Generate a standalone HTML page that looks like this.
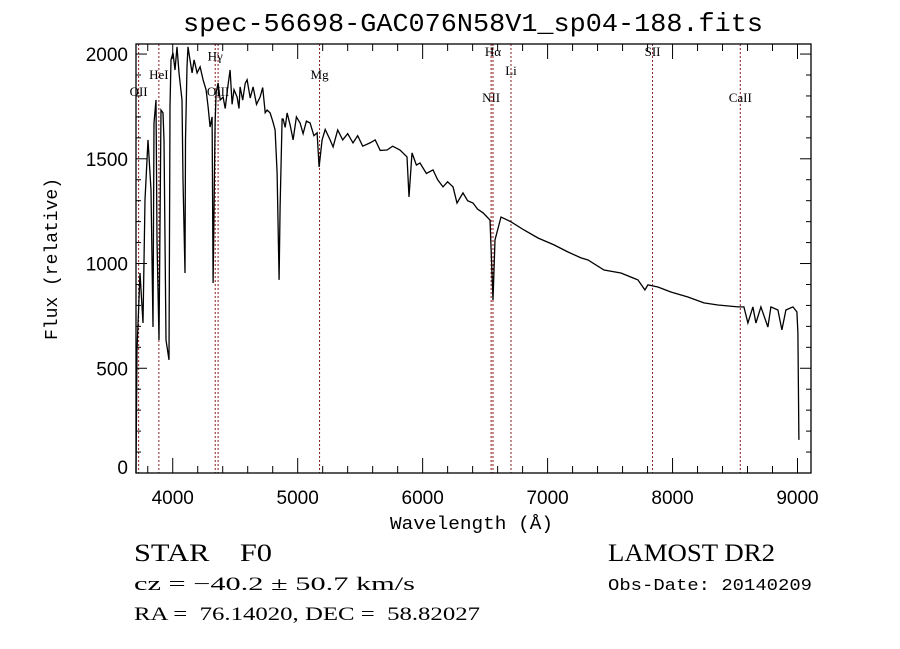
<!DOCTYPE html>
<html><head><meta charset="utf-8"><style>
html,body{margin:0;padding:0;background:#fff;width:900px;height:649px;overflow:hidden}
svg{display:block}
</style></head><body>
<svg id="chart" width="900" height="649" viewBox="0 0 900 649" xmlns="http://www.w3.org/2000/svg">
<rect width="900" height="649" fill="#fff"/>
<text x="473" y="31" text-anchor="middle" font-family="Liberation Mono, monospace" font-size="26" textLength="580" lengthAdjust="spacingAndGlyphs" fill="#000">spec-56698-GAC076N58V1_sp04-188.fits</text>
<g id="lines"></g>
<g id="spec"></g>
<g id="axes"></g>
<text x="390" y="529" font-family="Liberation Mono, monospace" font-size="18" textLength="163" lengthAdjust="spacingAndGlyphs" fill="#000">Wavelength (Å)</text>
<text transform="translate(57,259) rotate(-90)" text-anchor="middle" font-family="Liberation Mono, monospace" font-size="18" fill="#000">Flux (relative)</text>
<text x="134" y="561" font-family="Liberation Serif, serif" font-size="25" textLength="138" lengthAdjust="spacingAndGlyphs" fill="#000" xml:space="preserve">STAR    F0</text>
<text x="134" y="590" font-family="Liberation Serif, serif" font-size="19" textLength="281" lengthAdjust="spacingAndGlyphs" fill="#000">cz = −40.2 ± 50.7 km/s</text>
<text x="134" y="620" font-family="Liberation Serif, serif" font-size="19" textLength="346" lengthAdjust="spacingAndGlyphs" fill="#000" xml:space="preserve">RA =  76.14020, DEC =  58.82027</text>
<text x="608" y="561" font-family="Liberation Serif, serif" font-size="25" textLength="167" lengthAdjust="spacingAndGlyphs" fill="#000">LAMOST DR2</text>
<text x="608" y="590" font-family="Liberation Mono, monospace" font-size="17" textLength="204" lengthAdjust="spacingAndGlyphs" fill="#000">Obs-Date: 20140209</text>
</svg>
<script>
const wavelengths=[3706,3710,3714,3738,3762,3778,3802,3826,3842,3850,3866,3874,3890,3906,3922,3930,3946,3970,3978,3986,4002,4018,4034,4050,4074,4082,4098,4102,4114,4122,4138,4155,4171,4195,4219,4243,4267,4283,4299,4315,4323,4339,4347,4363,4380,4403,4420,4440,4459,4475,4490,4515,4530,4539,4560,4580,4595,4620,4643,4670,4699,4720,4740,4755,4779,4800,4819,4835,4851,4859,4875,4883,4900,4915,4940,4963,4990,5019,5043,5070,5099,5130,5155,5171,5195,5220,5259,5283,5320,5360,5400,5443,5480,5520,5579,5620,5660,5715,5760,5819,5875,5891,5915,5950,5979,6030,6083,6120,6163,6200,6243,6275,6323,6360,6403,6440,6483,6539,6563,6579,6627,6707,6811,6923,7051,7163,7267,7323,7451,7587,7723,7779,7803,7883,7987,8123,8251,8363,8523,8571,8603,8643,8667,8707,8763,8787,8843,8875,8907,8963,8995,9003,9011];
const fluxes=[0,300,587,955,716,1304,1590,1351,697,1671,1781,1113,635,1733,1719,1590,635,540,1748,1972,2006,1924,2034,1910,1781,1399,955,1590,1939,2034,1972,1910,1972,1910,1939,1877,1829,1748,1652,1700,907,1671,1815,1862,1780,1795,1740,1840,1924,1760,1830,1795,1740,1843,1780,1860,1877,1790,1843,1760,1795,1840,1720,1733,1719,1680,1638,1433,922,1270,1690,1690,1650,1719,1660,1590,1700,1671,1620,1680,1671,1610,1624,1461,1590,1640,1590,1557,1638,1590,1620,1576,1610,1560,1576,1590,1540,1542,1560,1542,1509,1318,1528,1470,1480,1430,1447,1400,1366,1390,1366,1289,1337,1300,1289,1260,1242,1208,826,1113,1222,1199,1160,1122,1089,1055,1027,1017,969,955,922,874,898,888,864,840,812,802,793,793,716,793,716,793,697,793,778,683,778,793,769,669,158];
const lineNames=["OII","HeI","Hγ","OIII","Mg","NII","Hα","Li","SII","CaII"];
const lineWaves=[3727,3889,4340,4363,5175,6548,6563,6707,7840,8542];
const lineLabelFlux=[1800,1880,1970,1800,1880,1770,1990,1900,1990,1770];
const xTicks=[4000,5000,6000,7000,8000,9000];
const yTicks=[0,500,1000,1500,2000];
const L=136,R=811,T=44,B=473;
const xMin=3706,xMax=9108,yMin=0,yMax=2048;
const NS="http://www.w3.org/2000/svg";
function xs(w){return L+(w-xMin)/(xMax-xMin)*(R-L);}
function ys(f){return B-(f-yMin)/(yMax-yMin)*(B-T);}
function mk(tag,attrs,parent){const e=document.createElementNS(NS,tag);for(const k in attrs)e.setAttribute(k,attrs[k]);parent.appendChild(e);return e;}
const lg=document.getElementById('lines');
lineWaves.forEach((w,i)=>{
  const x=xs(w);
  const ln=mk('line',{x1:x,x2:x,y1:T,y2:B,stroke:'#8b1a1a','stroke-width':1,'stroke-dasharray':'2,2'},lg);
  
  
  const t=mk('text',{x:x,y:ys(lineLabelFlux[i]),'text-anchor':'middle','font-family':'Liberation Serif, serif','font-size':13,fill:'#000'},lg);
  t.textContent=lineNames[i];
  
  
});
const sg=document.getElementById('spec');
let d='';
wavelengths.forEach((w,i)=>{d+=(i?'L':'M')+xs(w).toFixed(1)+','+ys(fluxes[i]).toFixed(1);});
const p=mk('path',{d:d,fill:'none',stroke:'#000','stroke-width':1.3},sg);


const ag=document.getElementById('axes');
const fr=mk('rect',{x:L,y:T,width:R-L,height:B-T,fill:'none',stroke:'#000','stroke-width':1.3},ag);


for(let w=3800;w<=9100;w+=200){
  const x=xs(w);const maj=w%1000===0;const len=maj?15:7;
  mk('line',{x1:x,x2:x,y1:B,y2:B-len,stroke:'#000','stroke-width':1},ag);
  mk('line',{x1:x,x2:x,y1:T,y2:T+len,stroke:'#000','stroke-width':1},ag);
}
for(let f=100;f<=2000;f+=100){
  const y=ys(f);const maj=f%500===0;const len=maj?11:5;
  mk('line',{x1:L,x2:L+len,y1:y,y2:y,stroke:'#000','stroke-width':1},ag);
  mk('line',{x1:R,x2:R-len,y1:y,y2:y,stroke:'#000','stroke-width':1},ag);
}
xTicks.forEach(w=>{
  const t=mk('text',{x:xs(w),y:504,'text-anchor':'middle','font-family':'Liberation Sans, sans-serif','font-size':19,fill:'#000'},ag);
  t.textContent=w;
  
  
});
yTicks.forEach(f=>{
  const t=mk('text',{x:128,y:Math.min(ys(f)+7,474),'text-anchor':'end','font-family':'Liberation Sans, sans-serif','font-size':19,fill:'#000'},ag);
  t.textContent=f;
  
  
});
</script>
</body></html>
